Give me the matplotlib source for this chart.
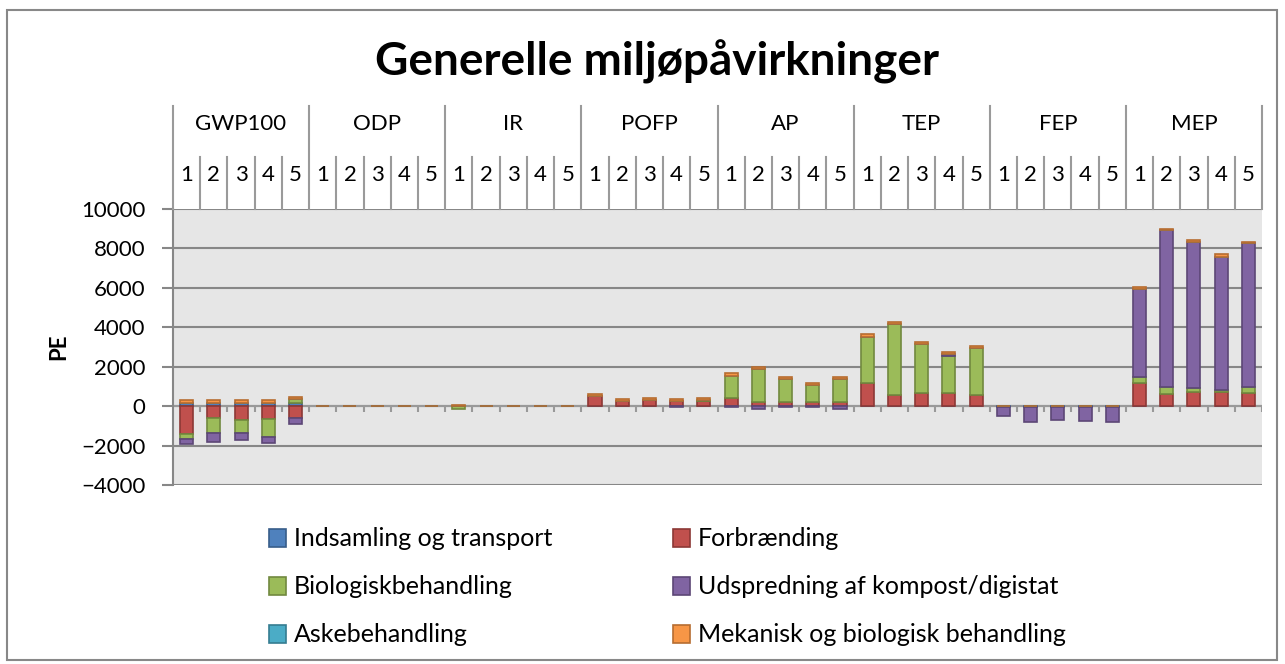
import matplotlib
matplotlib.use("Agg")
import matplotlib.pyplot as plt
import numpy as np
from matplotlib.patches import Rectangle

plt.rcParams['font.family'] = ['Lato', 'DejaVu Sans']

# categories
groups = ["GWP100", "ODP", "IR", "POFP", "AP", "TEP", "FEP", "MEP"]
scenarios = ["1", "2", "3", "4", "5"]

# series values (PE), 5 scenarios per impact category, in group order
indsamling = [140, 140, 140, 140, 140,  0, 0, 0, 0, 0,  0, 0, 0, 0, 0,
              0, 0, 0, 0, 0,  0, 0, 0, 0, 0,  0, 0, 0, 0, 0,
              -40, -40, -40, -40, -40,  0, 0, 0, 0, 0]
forbraending = [-1390, -580, -700, -650, -580,  0, 0, 0, 0, 0,  0, 0, 0, 0, 0,
                510, 240, 290, 240, 240,  390, 185, 220, 220, 185,
                1150, 590, 680, 645, 590,  0, 0, 0, 0, 0,
                1190, 630, 710, 700, 660]
biologisk = [-256, -800, -680, -890, 220,  0, 0, 0, 0, 0,  -150, 0, 0, 0, 0,
             0, 0, 0, 0, 60,  1150, 1690, 1180, 830, 1170,
             2370, 3560, 2475, 1880, 2360,  0, 0, 0, 0, 0,
             305, 360, 220, 100, 320]
udspredning = [-270, -430, -340, -325, -325,  -15, -15, -15, -15, -15,  0, 0, 0, 0, 0,
               0, 0, 0, -60, 0,  -50, -120, -60, -30, -130,
               0, 0, 0, 100, 0,  -460, -750, -680, -700, -740,
               4450, 7930, 7400, 6760, 7270]
askebehandling = [0] * 40
mekanisk = [180, 150, 150, 150, 120,  0, 0, 0, 0, 0,  40, 30, 30, 30, 30,
            120, 130, 130, 130, 120,  120, 100, 100, 120, 120,
            120, 120, 100, 120, 100,  0, 0, 0, 0, 0,
            100, 85, 100, 150, 100]

series = [
    ("Indsamling og transport", indsamling, "#4F81BD", "#385D8A"),
    ("Forbrænding", forbraending, "#C0504D", "#8C3836"),
    ("Biologiskbehandling", biologisk, "#9BBB59", "#71893F"),
    ("Udspredning af kompost/digistat", udspredning, "#8064A2", "#5C4776"),
    ("Askebehandling", askebehandling, "#4BACC6", "#357D91"),
    ("Mekanisk og biologisk behandling", mekanisk, "#F79646", "#B66D31"),
]

W, H = 1285, 664
fig = plt.figure(figsize=(W / 100, H / 100), dpi=100)

# outer frame
fig.patches.append(Rectangle((7 / W, 4 / H), 1270 / W, 650 / H, transform=fig.transFigure,
                             fill=False, edgecolor="#888888", linewidth=1.5))

x0, x1, y_top, y_bot = 173, 1262, 209, 485
ax = fig.add_axes([x0 / W, 1 - y_bot / H, (x1 - x0) / W, (y_bot - y_top) / H])
ax.set_facecolor("#E6E6E6")

n = len(groups) * len(scenarios)
x = np.arange(n)
pos_base = np.zeros(n)
neg_base = np.zeros(n)
handles = []
for label, vals, col, edge in series:
    v = np.array(vals, dtype=float)
    bottom = np.where(v >= 0, pos_base, neg_base)
    bc = ax.bar(x, v, 0.48, bottom=bottom, color=col, edgecolor=edge, linewidth=1.2,
                label=label, zorder=3)
    handles.append(bc)
    pos_base += np.where(v > 0, v, 0)
    neg_base += np.where(v < 0, v, 0)

ax.set_xlim(-0.5, n - 0.5)
ax.set_ylim(-4000, 10000)
ax.set_yticks(np.arange(-4000, 10001, 2000))
ax.yaxis.grid(True, color="#878787", linewidth=1.5, zorder=0)
ax.set_axisbelow(True)
ax.set_xticks([])
for s in ["top", "right", "bottom"]:
    ax.spines[s].set_visible(False)
ax.spines["left"].set_color("#878787")
ax.spines["left"].set_linewidth(1.5)
ax.tick_params(axis="y", length=8, width=1.5, color="#878787", pad=12, labelsize=16)

# category axis at zero with tick marks between categories
ax.axhline(0, color="#999999", linewidth=1.5, zorder=2)
ax.vlines(np.arange(0.5, n, 1), -300, 0, color="#999999", linewidth=1.5, zorder=2)

ax.set_ylabel("PE", fontsize=16, fontweight="bold", labelpad=8)

# multi-level category header above the plot
hy0, hy1 = 106, 209
hax = fig.add_axes([x0 / W, 1 - hy1 / H, (x1 - x0) / W, (hy1 - hy0) / H])
hax.set_xlim(-0.5, n - 0.5)
hax.set_ylim(0, 1)
hax.axis("off")
mid = (hy1 - 157) / (hy1 - hy0)
for k in range(n + 1):
    xb = k - 0.5
    if k % 5 == 0:
        hax.plot([xb, xb], [0, 1], color="#9a9a9a", linewidth=1.5, clip_on=False)
    else:
        hax.plot([xb, xb], [0, mid], color="#9a9a9a", linewidth=1.5, clip_on=False)
for gi, g in enumerate(groups):
    hax.text(gi * 5 + 2, (hy1 - 124) / (hy1 - hy0), g, ha="center", va="center", fontsize=16)
    for si, s in enumerate(scenarios):
        hax.text(gi * 5 + si, (hy1 - 175) / (hy1 - hy0), s, ha="center", va="center", fontsize=16)

fig.text(657 / W, 1 - 62 / H, "Generelle miljøpåvirkninger", ha="center", va="center",
         fontsize=33, fontweight="bold")

# legend, two columns
leg_kw = dict(frameon=False, fontsize=18, handlelength=0.7, handleheight=0.7,
              handletextpad=0.3, labelspacing=1.0, loc="upper left")
fig.legend([handles[0], handles[2], handles[4]],
           [series[0][0], series[2][0], series[4][0]],
           bbox_to_anchor=(246 / W, 1 - 505 / H), **leg_kw)
fig.legend([handles[1], handles[3], handles[5]],
           [series[1][0], series[3][0], series[5][0]],
           bbox_to_anchor=(650 / W, 1 - 505 / H), **leg_kw)

fig.savefig("out.png", dpi=100)
